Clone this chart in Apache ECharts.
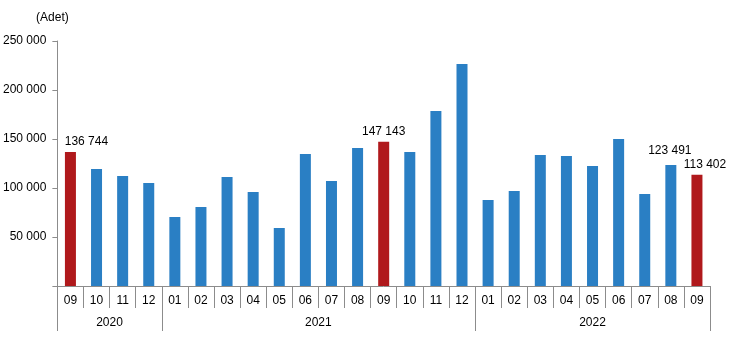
<!DOCTYPE html>
<html>
<head>
<meta charset="utf-8">
<script src="https://cdn.jsdelivr.net/npm/echarts@6/dist/echarts.min.js"></script>
<style>
  html, body { margin: 0; padding: 0; background: #fff; }
  #chart { width: 729px; height: 353px; }
</style>
</head>
<body>
<div id="chart"></div>
<script>
// months shown on the first axis row
const months = ['09', '10', '11', '12',
  '01', '02', '03', '04', '05', '06', '07', '08', '09', '10', '11', '12',
  '01', '02', '03', '04', '05', '06', '07', '08', '09']
// year groups and how many months each spans
const years = ['2020', '2021', '2022']
const yearSpans = [4, 12, 9]
// monthly counts (Adet)
const values = [136744, 119400, 112200, 105100,
  70400, 80600, 111200, 95900, 59200, 134700, 107100, 140800, 147143, 136700, 178600, 226500,
  87800, 96900, 133700, 132700, 122400, 150000, 93900, 123491, 113402]
// bars drawn in red and the ones that carry a value label
const highlighted = [0, 12, 24]
const labelled = [0, 12, 23, 24]

const blue = '#2a7fc4'
const red = '#b0191c'
const gray = '#8c8c8c'
const font = 'Liberation Sans, Arial, sans-serif'

function fmt(v) {
  return String(v).replace(/\B(?=(\d{3})+(?!\d))/g, ' ')
}

// build the year row: one slot per month, year text near the middle of its span
const yearRow = []
const yearTickAt = {}
const yearLabelAt = {}
let start = 0
years.forEach((y, i) => {
  const span = yearSpans[i]
  yearTickAt[start] = true
  const mid = start + Math.floor((span - 1) / 2)
  yearLabelAt[mid] = span % 2 === 0 ? 'half' : 'full'
  for (let k = 0; k < span; k++) {
    yearRow.push(start + k === mid ? y : '')
  }
  start += span
})

const chart = echarts.init(document.getElementById('chart'))

chart.setOption({
  animation: false,
  textStyle: { fontFamily: font },
  grid: { left: 57, right: 19, top: 41, bottom: 67, containLabel: false },
  xAxis: [
    {
      type: 'category',
      data: months,
      position: 'bottom',
      axisLine: { show: true, lineStyle: { color: gray, width: 1 } },
      axisTick: { show: true, interval: 0, length: 22, lineStyle: { color: gray } },
      axisLabel: { interval: 0, margin: 9, fontSize: 12, color: '#000', fontFamily: font }
    },
    {
      type: 'category',
      data: yearRow,
      position: 'bottom',
      axisLine: { show: false },
      axisTick: {
        show: true,
        length: 45,
        interval: (idx) => !!yearTickAt[idx],
        lineStyle: { color: gray }
      },
      axisLabel: {
        interval: (idx) => !!yearLabelAt[idx],
        margin: 31,
        fontSize: 12,
        color: '#000',
        fontFamily: font,
        formatter: (v, idx) => yearLabelAt[idx] === 'half' ? '{h|' + v + '}' : v,
        rich: { h: { padding: [0, 0, 0, 26], fontSize: 12, color: '#000', fontFamily: font } }
      }
    }
  ],
  yAxis: {
    type: 'value',
    min: 0,
    max: 250000,
    interval: 50000,
    name: '(Adet)',
    nameLocation: 'end',
    nameGap: 17,
    nameTextStyle: { color: '#000', fontSize: 12, fontFamily: font, padding: [0, 10, 0, 0] },
    axisLine: { show: true, lineStyle: { color: gray } },
    axisTick: { show: true, length: 5, lineStyle: { color: gray } },
    splitLine: { show: false },
    axisLabel: {
      margin: 11,
      fontSize: 12,
      color: '#000',
      fontFamily: font,
      formatter: (v) => v === 0 ? '' : fmt(v)
    }
  },
  series: [
    {
      type: 'bar',
      xAxisIndex: 0,
      barWidth: 11,
      data: values.map((v, i) => {
        const item = {
          value: v,
          itemStyle: { color: highlighted.indexOf(i) >= 0 ? red : blue }
        }
        if (labelled.indexOf(i) >= 0) {
          item.label = {
            show: true,
            position: 'top',
            distance: 4,
            color: '#000',
            fontSize: 12,
            fontFamily: font,
            formatter: (p) => fmt(p.value)
          }
          if (i === 0) item.label.offset = [16, 0]
          if (i === 23) item.label.offset = [-1, -4]
          if (i === 24) item.label.offset = [8, 0]
        }
        return item
      })
    }
  ]
})
</script>
</body>
</html>
